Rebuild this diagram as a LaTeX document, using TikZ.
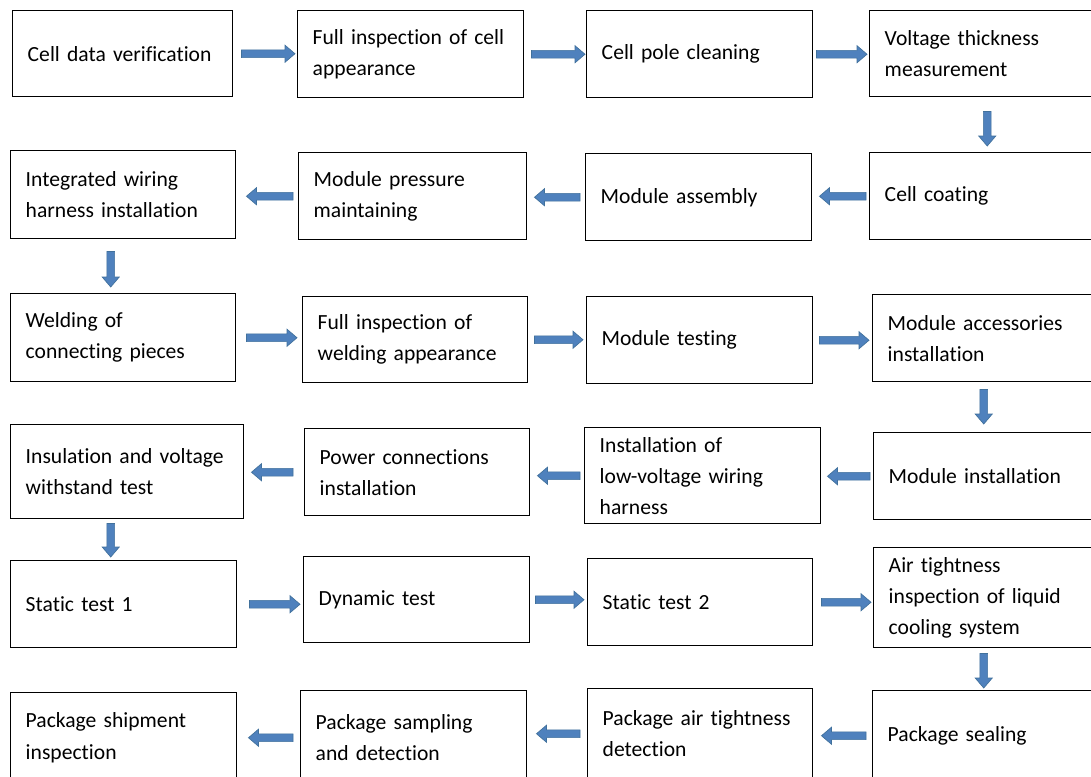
\documentclass[tikz,border=0pt]{standalone}
\usepackage{fontspec}
\setmainfont{Carlito}[Ligatures=NoCommon]
\usetikzlibrary{calc}
\definecolor{arrfill}{HTML}{4F81BD}
\definecolor{arredge}{HTML}{41719C}
\newcommand\boxfont{\fontsize{16.2}{23.3}\selectfont}
\hyphenpenalty=10000
\exhyphenpenalty=10000
\hbadness=10000
\hfuzz=50pt
\tikzset{
 stepbox/.style={draw=black, line width=1.1pt, rectangle, align=left, inner xsep=11.25pt, inner ysep=0pt, font=\boxfont, text=black},
 blockarr/.style={fill=arrfill, draw=arredge, line width=0.5pt, line join=miter}
}
\newcommand\mkbox[6]{%
 \pgfmathsetlengthmacro\bxw{(#4-#2)*0.75pt}%
 \pgfmathsetlengthmacro\bxh{(#5-#3)*0.75pt}%
 \pgfmathsetlengthmacro\bxt{(#4-#2)*0.75pt-22.5pt}%
 \node[stepbox, anchor=north west, minimum width=\bxw, minimum height=\bxh, text width=\bxt] (#1) at (#2,#3) {#6};}
\newcommand\barrow[4]{%
 \pgfmathsetlengthmacro\bagS{#3*0.75pt}%
 \pgfmathsetlengthmacro\bagE{#4*0.75pt}%
 \coordinate (ba-p) at ($(#1)!\bagS!(#2)$);
 \coordinate (ba-q) at ($(#2)!\bagE!(#1)$);
 \coordinate (ba-h) at ($(ba-q)!7.5pt!(ba-p)$);
 \filldraw[blockarr] ($(ba-p)!2.9pt!90:(ba-q)$) -- ($(ba-h)!2.9pt!90:(ba-q)$) -- ($(ba-h)!6.4pt!90:(ba-q)$) -- (ba-q) -- ($(ba-h)!6.4pt!-90:(ba-q)$) -- ($(ba-h)!2.9pt!-90:(ba-q)$) -- ($(ba-p)!2.9pt!-90:(ba-q)$) -- cycle;}
\newcommand\harrow[6]{%
 \coordinate (ha-s) at (#1.#3);
 \coordinate (ha-t) at (ha-s -| #2.#4);
 \barrow{ha-s}{ha-t}{#5}{#6}}
\newcommand\varrow[5]{%
 \pgfmathsetlengthmacro\vaxs{#3*0.75pt}%
 \coordinate (va-s) at ([xshift=\vaxs]#1.south);
 \coordinate (va-t) at (va-s |- #2.north);
 \barrow{va-s}{va-t}{#4}{#5}}
\begin{document}
\begin{tikzpicture}[x=0.75pt,y=-0.75pt]
\path[use as bounding box] (0,0) rectangle (1091,776);
\fill[white] (0,0) rectangle (1091,776);
\clip (0,0) rectangle (1091,776);
% row 1
\mkbox{A1}{12}{10}{232}{96}{Cell data verification}
\mkbox{A2}{297}{10}{523}{97}{Full inspection of cell\\appearance}
\mkbox{A3}{586}{10}{812}{97}{Cell pole cleaning}
\mkbox{A4}{869}{10}{1104}{96}{Voltage thickness\\measurement}
% row 2
\mkbox{B1}{10}{150}{235}{238}{Integrated wiring\\harness installation}
\mkbox{B2}{298}{152}{526}{239}{Module pressure\\maintaining}
\mkbox{B3}{585}{153}{811}{240}{Module assembly}
\mkbox{B4}{869}{152}{1104}{239}{Cell coating}
% row 3
\mkbox{C1}{10}{293}{235}{381}{Welding of\\connecting pieces}
\mkbox{C2}{302}{296}{527}{382}{Full inspection of\\welding appearance}
\mkbox{C3}{586}{296}{812}{383}{Module testing}
\mkbox{C4}{872}{294}{1100}{381}{Module accessories\\installation}
% row 4
\mkbox{D1}{10}{424}{243}{518}{Insulation and voltage\\withstand test}
\mkbox{D2}{304}{428}{529}{515}{Power connections\\installation}
\mkbox{D3}{584}{427}{820}{523}{Installation of\\low-voltage wiring\\harness}
\mkbox{D4}{873}{432}{1100}{519}{Module installation}
% row 5
\mkbox{E1}{10}{560}{236}{647}{Static test 1}
\mkbox{E2}{303}{556}{529}{642}{Dynamic test}
\mkbox{E3}{587}{558}{812}{645}{Static test 2}
\mkbox{E4}{873}{547}{1100}{647}{Air tightness\\inspection of liquid\\cooling system}
% row 6
\mkbox{F1}{10}{692}{236}{782}{Package shipment\\inspection}
\mkbox{F2}{300}{690}{526}{784}{Package sampling\\and detection}
\mkbox{F3}{587}{688}{812}{778}{Package air tightness\\detection}
\mkbox{F4}{872}{690}{1100}{780}{Package sealing}
% arrows
\harrow{A1}{A2}{east}{west}{8}{2}
\harrow{A2}{A3}{east}{west}{7}{1}
\harrow{A3}{A4}{east}{west}{3}{2}
\varrow{A4}{B4}{0}{14}{6}
\harrow{B4}{B3}{west}{east}{3}{7}
\harrow{B3}{B2}{west}{east}{5}{7}
\harrow{B2}{B1}{west}{east}{5}{10}
\varrow{B1}{C1}{-12.5}{12}{6}
\harrow{C1}{C2}{east}{west}{10}{5}
\harrow{C2}{C3}{east}{west}{6}{3}
\harrow{C3}{C4}{east}{west}{6}{3}
\varrow{C4}{D4}{-3}{7}{8}
\harrow{D4}{D3}{west}{east}{3}{6}
\harrow{D3}{D2}{west}{east}{4}{7}
\harrow{D2}{D1}{west}{east}{11}{7}
\varrow{D1}{E1}{-16.5}{4}{3}
\harrow{E1}{E2}{east}{west}{12}{3}
\harrow{E2}{E3}{east}{west}{5}{3}
\harrow{E3}{E4}{east}{west}{8}{2}
\varrow{E4}{F4}{-3.5}{5}{2}
\harrow{F4}{F3}{west}{east}{6}{8}
\harrow{F3}{F2}{west}{east}{7}{9}
\harrow{F2}{F1}{west}{east}{7}{11}
\end{tikzpicture}
\end{document}
